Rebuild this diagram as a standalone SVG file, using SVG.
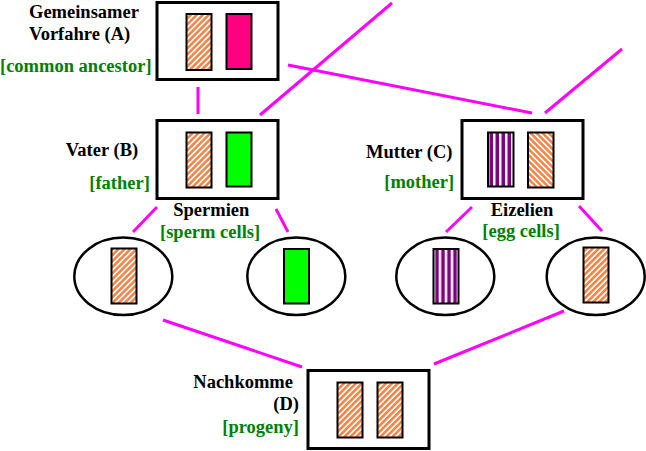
<svg xmlns="http://www.w3.org/2000/svg" width="646" height="451" viewBox="0 0 646 451">
<style>
.box{fill:#fff;stroke:#000;stroke-width:3}
.cell{fill:#fff;stroke:#000;stroke-width:2.5}
.chr{stroke:#000;stroke-width:2}
.t{font-family:"Liberation Serif","Times New Roman",serif;font-weight:bold;font-size:18.5px;fill:#000}
.g{fill:#008000}
.con line{stroke:#ff00ff;stroke-width:3;stroke-linecap:butt}
</style>
<defs>
<pattern id="hatchR" patternUnits="userSpaceOnUse" width="4.24" height="4.24" patternTransform="rotate(45)">
<rect width="4.24" height="4.24" fill="#fff"/>
<rect width="2.5" height="4.24" fill="#ff8040"/>
</pattern>
<pattern id="hatchL" patternUnits="userSpaceOnUse" width="4.24" height="4.24" patternTransform="rotate(-45)">
<rect width="4.24" height="4.24" fill="#fff"/>
<rect width="2.5" height="4.24" fill="#ff8040"/>
</pattern>
<pattern id="stripe" patternUnits="userSpaceOnUse" x="487" width="6" height="10">
<rect width="6" height="10" fill="#fff"/>
<rect x="2.5" width="3.5" height="10" fill="#800080"/>
</pattern>
<pattern id="stripe2" patternUnits="userSpaceOnUse" x="432.7" width="6" height="10">
<rect width="6" height="10" fill="#fff"/>
<rect x="2.5" width="3.5" height="10" fill="#800080"/>
</pattern>
</defs>
<rect width="646" height="451" fill="#fff"/>

<g id="connectors" class="con">
<line x1="198" y1="87" x2="198" y2="114"/>
<line x1="260" y1="115" x2="392" y2="3"/>
<line x1="288" y1="65" x2="532" y2="113"/>
<line x1="545" y1="113" x2="622" y2="49"/>
<line x1="157" y1="207" x2="133" y2="232"/>
<line x1="276" y1="209" x2="288" y2="232"/>
<line x1="472" y1="207" x2="446" y2="232"/>
<line x1="579" y1="206" x2="602" y2="231"/>
<line x1="163" y1="320" x2="302" y2="367"/>
<line x1="564" y1="311" x2="434" y2="364"/>
</g>

<g id="nodeA">
<rect class="box" x="157" y="2.5" width="121" height="77"/>
<rect class="chr" x="186.5" y="14" width="25" height="56" fill="url(#hatchR)"/>
<rect class="chr" x="226.5" y="14" width="25" height="55" fill="#ff0080"/>
<text class="t" x="29" y="18">Gemeinsamer</text>
<text class="t" x="29" y="40">Vorfahre (A)</text>
<text class="t g" x="0" y="72">[common ancestor]</text>
</g>

<g id="nodeB">
<rect class="box" x="157" y="120.5" width="121" height="78"/>
<rect class="chr" x="186.5" y="132.5" width="25" height="55" fill="url(#hatchR)"/>
<rect class="chr" x="226.5" y="132.5" width="25" height="54" fill="#00ff00"/>
<text class="t" x="65.7" y="156">Vater (B)</text>
<text class="t g" x="89.3" y="188.5">[father]</text>
<text class="t" x="173.3" y="215.5">Spermien</text>
<text class="t g" x="160" y="237.5">[sperm cells]</text>
</g>

<g id="nodeC">
<rect class="box" x="462" y="120.5" width="121" height="78"/>
<rect class="chr" x="488" y="132.5" width="25.5" height="54" fill="url(#stripe)"/>
<rect class="chr" x="528" y="132.5" width="25.5" height="55" fill="url(#hatchL)"/>
<text class="t" x="366" y="157.5">Mutter (C)</text>
<text class="t g" x="384.3" y="188">[mother]</text>
<text class="t" x="490.7" y="215.5">Eizelien</text>
<text class="t g" x="482.3" y="237">[egg cells]</text>
</g>

<g id="sperm1">
<ellipse class="cell" cx="123.3" cy="276.3" rx="49" ry="38.7"/>
<rect class="chr" x="111.5" y="248.5" width="25" height="55" fill="url(#hatchR)"/>
</g>

<g id="sperm2">
<ellipse class="cell" cx="296.3" cy="276.3" rx="49" ry="38.7"/>
<rect class="chr" x="284" y="249" width="25" height="54.5" fill="#00ff00"/>
</g>

<g id="egg1">
<ellipse class="cell" cx="445.3" cy="276.3" rx="49" ry="38.7"/>
<rect class="chr" x="433.5" y="249" width="25" height="54.5" fill="url(#stripe2)"/>
</g>

<g id="egg2">
<ellipse class="cell" cx="595.7" cy="276.3" rx="49" ry="38.7"/>
<rect class="chr" x="583.5" y="247.5" width="25" height="55" fill="url(#hatchR)"/>
</g>

<g id="nodeD">
<rect class="box" x="308" y="370.5" width="121" height="78"/>
<rect class="chr" x="337.5" y="382.5" width="25" height="55" fill="url(#hatchR)"/>
<rect class="chr" x="377.5" y="382.5" width="25" height="55" fill="url(#hatchR)"/>
<text class="t" x="193.3" y="388">Nachkomme</text>
<text class="t" x="273.3" y="410">(D)</text>
<text class="t g" x="222.3" y="433">[progeny]</text>
</g>
</svg>
